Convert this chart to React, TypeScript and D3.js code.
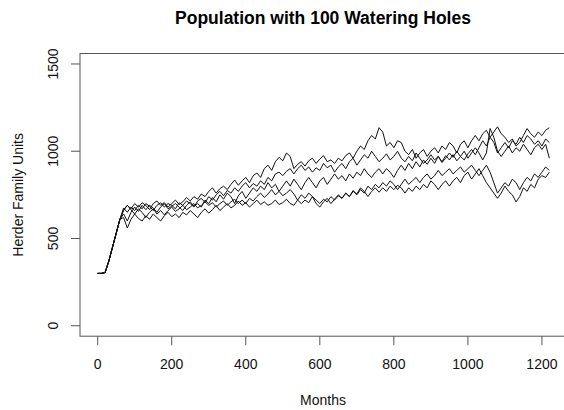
import React from "react";
import * as d3 from "d3";

const title = "Population with 100 Watering Holes";
const xLabel = "Months";
const yLabel = "Herder Family Units";
const xTicks = [0, 200, 400, 600, 800, 1000, 1200];
const yTicks = [0, 500, 1000, 1500];

// shared start-up ramp (months 0..60)
const rampMonths = [0, 10, 20, 30, 40, 50, 60];
const rampValues = [300, 300, 305, 370, 450, 530, 610];

// months 70..1220 every 10 months
const seriesA = [665,690,670,700,680,705,690,665,700,715,690,705,680,700,720,695,710,735,715,740,725,755,740,770,
790,760,785,800,780,810,835,805,830,850,820,860,875,850,900,920,890,940,965,945,990,970,900,925,940,915,945,960,930,955,975,940,950,930,960,945,975,990,960,1000,1030,1010,1060,1090,1070,1135,1110,1030,1050,1020,1060,1050,1000,980,1010,960,990,1010,970,1000,1020,990,1030,1010,1050,1030,990,1040,1060,1020,1060,1090,1060,1100,1120,1080,1110,1140,1100,1080,1050,1070,1030,1050,1090,1130,1100,1080,1110,1090,1120,1135];
const seriesB = [675,650,680,660,690,670,700,685,660,690,705,680,700,690,670,705,690,715,700,680,715,730,705,740,
720,750,770,745,775,760,790,770,800,820,790,815,800,830,810,850,830,870,880,860,885,900,870,900,920,890,910,880,905,890,930,905,920,880,910,930,900,940,960,920,950,980,960,1000,970,940,960,985,950,970,1000,960,940,970,945,990,960,930,950,980,950,970,935,960,990,965,1000,970,950,985,1010,980,1020,1060,1030,1080,1050,990,1020,1050,1020,1060,1040,1080,1050,1090,1070,1040,1060,1030,1070,1050];
const seriesC = [640,600,650,680,655,690,665,690,675,650,680,700,670,685,700,680,660,690,710,685,700,680,720,700,
735,710,750,725,760,740,700,745,770,730,760,790,770,800,780,820,790,810,770,800,830,800,840,810,780,820,850,820,790,830,850,810,840,870,840,860,830,870,845,880,860,900,870,850,880,900,870,900,880,850,890,920,890,930,900,940,910,950,925,960,930,970,940,975,950,980,945,970,1000,960,990,1020,990,950,990,1130,1080,1000,970,1000,1030,990,1020,1000,1040,1010,980,1020,1040,1010,1040,960];
const seriesD = [660,690,665,640,670,650,620,650,670,640,660,635,660,680,655,670,690,665,680,700,675,690,710,690,
705,680,700,715,690,710,725,700,720,700,730,715,740,760,735,755,780,750,770,745,760,780,755,720,750,730,760,740,700,680,710,730,700,725,750,730,760,740,775,750,780,760,800,780,810,790,820,800,830,810,780,810,840,810,830,850,820,850,870,840,860,890,860,880,900,870,890,910,880,900,920,890,860,890,920,880,820,760,790,820,800,840,820,780,820,850,830,870,850,880,910,890];
const seriesE = [620,560,610,640,615,600,630,610,640,620,600,630,650,625,640,620,650,635,660,640,620,650,670,645,
665,690,660,680,700,675,690,715,690,705,680,700,720,695,710,690,700,720,695,705,725,700,690,720,700,720,705,740,720,700,725,710,740,720,745,730,760,740,770,755,790,770,740,770,790,765,790,770,800,780,805,790,760,790,770,800,780,810,790,830,810,780,810,830,800,830,850,820,860,880,840,870,900,860,820,790,760,730,760,800,770,750,710,740,790,770,810,790,840,860,850,880];

const allSeries = [seriesA, seriesB, seriesC, seriesD, seriesE];

export default function App() {
  const W = 564, H = 410;
  const x = d3.scaleLinear().domain([-47.8, 1268.8]).range([80, 567.4]);
  const y = d3.scaleLinear().domain([-60, 1560]).range([336.2, 53.5]);
  const line = d3.line<[number, number]>().x(d => x(d[0])).y(d => y(d[1]));
  const font = "Liberation Sans, Arial, Helvetica, sans-serif";
  const axisColor = "#555";

  const paths = allSeries.map((s, i) => {
    const pts: [number, number][] = rampMonths.map((m, j) => [m, rampValues[j]] as [number, number]);
    s.forEach((v, j) => pts.push([70 + j * 10, v]));
    return <path key={i} d={line(pts) || ""} fill="none" stroke="#111" strokeWidth={1} strokeLinejoin="round" />;
  });

  const [x0, x1] = x.range();
  const [yb, yt] = y.range();

  return (
    <svg width={W} height={H} style={{ position: "absolute", left: 0, top: 0, background: "#fff" }} fontFamily={font}>
      <rect x={0} y={0} width={W} height={H} fill="#fff" />
      <text x={323} y={24} textAnchor="middle" fontWeight="bold" fontSize={17.5} fill="#000">{title}</text>
      <defs>
        <clipPath id="clip"><rect x={x0} y={yt} width={x1 - x0} height={yb - yt} /></clipPath>
      </defs>
      <g clipPath="url(#clip)">{paths}</g>
      <rect x={x0} y={yt} width={x1 - x0} height={yb - yt} fill="none" stroke={axisColor} strokeWidth={1} />
      {xTicks.map(t => (
        <g key={t}>
          <line x1={x(t)} x2={x(t)} y1={yb} y2={yb + 9} stroke={axisColor} />
          <text x={x(t)} y={369} textAnchor="middle" fontSize={14} fill="#111">{t}</text>
        </g>
      ))}
      {yTicks.map(t => (
        <g key={t}>
          <line x1={x0 - 9} x2={x0} y1={y(t)} y2={y(t)} stroke={axisColor} />
          <text transform={`translate(58,${y(t)}) rotate(-90)`} textAnchor="middle" fontSize={14} fill="#111">{t}</text>
        </g>
      ))}
      <text x={323} y={405} textAnchor="middle" fontSize={14} fill="#111">{xLabel}</text>
      <text transform={`translate(23,${(yt + yb) / 2}) rotate(-90)`} textAnchor="middle" fontSize={14} fill="#111">{yLabel}</text>
    </svg>
  );
}
